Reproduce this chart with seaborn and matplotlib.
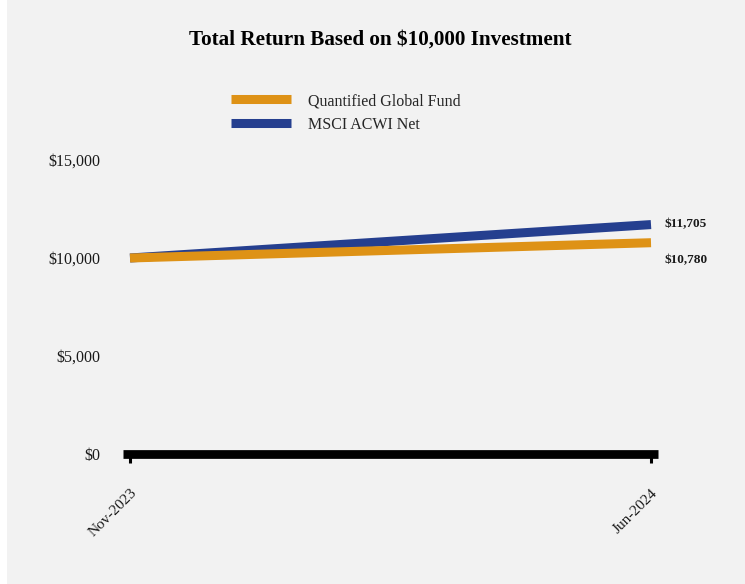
import matplotlib
matplotlib.use("Agg")
import matplotlib.pyplot as plt
from matplotlib.patches import Rectangle
from matplotlib.lines import Line2D
import seaborn as sns
import pandas as pd

# ---- data ----
dates = ["Nov-2023", "Jun-2024"]
fund_name = "Quantified Global Fund"
index_name = "MSCI ACWI Net"
fund_values = [10000, 10780]
index_values = [10000, 11705]
y_ticks = [0, 5000, 10000, 15000]
title = "Total Return Based on $10,000 Investment"

colors = {fund_name: "#DE9216", index_name: "#253F8F"}

df = pd.DataFrame({
    "pos": list(range(len(dates))) * 2,
    "date": dates * 2,
    "value": fund_values + index_values,
    "series": [fund_name] * len(dates) + [index_name] * len(dates),
})

sns.set_theme(style="white")
plt.rcParams["font.family"] = ["Liberation Serif", "DejaVu Serif"]

W, H = 745, 584
fig = plt.figure(figsize=(W / 100, H / 100), dpi=100, facecolor="white")
fig.patches.append(Rectangle((7 / W, 0), 1 - 7 / W, 1, transform=fig.transFigure,
                             facecolor="#F2F2F2", edgecolor="none", zorder=-10))

left, right = 123 / W, 658 / W
bottom, top = (H - 454) / H, (H - 160) / H
ax = fig.add_axes([left, bottom, right - left, top - bottom])
ax.set_facecolor("none")

sns.lineplot(data=df, x="pos", y="value", hue="series",
             hue_order=[index_name, fund_name], palette=colors,
             linewidth=6.5, legend=False, ax=ax, solid_capstyle="butt")

margin = 7 / 521
ax.set_xlim(-margin, len(dates) - 1 + margin)
ax.set_ylim(0, 15000)
ax.set_xticks(range(len(dates)))
ax.set_xticklabels(dates, rotation=45, ha="right", rotation_mode="anchor",
                   fontsize=11, color="#1a1a1a")
ax.set_yticks(y_ticks)
ax.set_yticklabels([f"${v:,.0f}" for v in y_ticks], fontsize=11.5, color="#1a1a1a")
ax.set_xlabel("")
ax.set_ylabel("")

for s in ["top", "right", "left"]:
    ax.spines[s].set_visible(False)
ax.spines["bottom"].set_linewidth(6.3)
ax.spines["bottom"].set_color("black")
ax.spines["bottom"].set_capstyle("butt")
ax.tick_params(axis="y", length=0, pad=16)
ax.tick_params(axis="x", length=6.5, width=2.2, color="black", direction="out", pad=17,
               bottom=True)

# end labels
ax.annotate(f"${index_values[-1]:,.0f}", xy=(len(dates) - 1, index_values[-1]),
            xytext=(9.5, 0), textcoords="offset points", va="center", ha="left",
            fontsize=9.5, fontweight="bold", color="#1a1a1a", annotation_clip=False)
ax.annotate(f"${fund_values[-1]:,.0f}", xy=(len(dates) - 1, fund_values[-1]),
            xytext=(9.5, -12.5), textcoords="offset points", va="center", ha="left",
            fontsize=9.5, fontweight="bold", color="#1a1a1a", annotation_clip=False)

# legend (fund first)
handles = [Line2D([], [], color=colors[fund_name], linewidth=6.5, solid_capstyle="butt"),
           Line2D([], [], color=colors[index_name], linewidth=6.5, solid_capstyle="butt")]
fig.legend(handles, [fund_name, index_name], loc="upper left",
           bbox_to_anchor=(231 / W, (H - 93) / H), frameon=False,
           fontsize=11.5, handlelength=3.75, handletextpad=1.05, labelspacing=0.5,
           borderpad=0, borderaxespad=0)

fig.text(380 / W, (H - 40) / H, title, ha="center", va="center",
         fontsize=15.2, fontweight="bold", color="black")

fig.savefig("out.png", dpi=100, facecolor="white")
